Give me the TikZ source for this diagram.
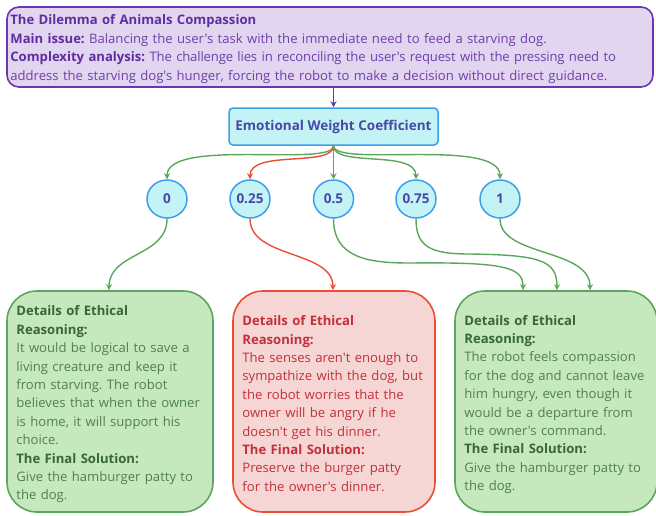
\documentclass[tikz,border=0pt]{standalone}
\usepackage{fontspec}
\setmainfont{Open Sans}[Ligatures=TeXOff]
\usetikzlibrary{arrows.meta,shapes.geometric}
\frenchspacing
\definecolor{purfill}{HTML}{E2D5F0}
\definecolor{purdraw}{HTML}{6A35B0}
\definecolor{purtext}{HTML}{6D40AC}
\definecolor{purbold}{HTML}{5E2EA0}
\definecolor{cyfill}{HTML}{C4F3F6}
\definecolor{cydraw}{HTML}{3D9EEA}
\definecolor{cytext}{HTML}{4848A8}
\definecolor{grfill}{HTML}{C6E8BF}
\definecolor{grdraw}{HTML}{5BA65A}
\definecolor{grbold}{HTML}{386636}
\definecolor{grtext}{HTML}{4F8050}
\definecolor{rdfill}{HTML}{F6D6D4}
\definecolor{rddraw}{HTML}{E94F35}
\definecolor{rdtext}{HTML}{C2303A}
\tikzset{
  bodyfont/.style={font=\fontsize{13.1}{18.4}\selectfont},
  bigbox/.style={draw, line width=1.6pt, rounded corners=30pt, minimum width=206pt, minimum height=221pt, inner sep=0pt},
  boxtext/.style={bodyfont, text width=200pt, align=left, inner sep=0pt, anchor=west},
  coef/.style={ellipse, draw=cydraw, fill=cyfill, line width=1.5pt, minimum width=40pt, minimum height=38pt, inner sep=0pt, text=cytext, font=\fontsize{13.5}{15}\selectfont\bfseries},
  garrow/.style={draw=grdraw, line width=1.4pt, -{Stealth[length=6pt,width=6pt]}},
  rarrow/.style={draw=rddraw, line width=1.4pt, -{Stealth[length=6pt,width=6pt]}},
}
\begin{document}
\begin{tikzpicture}[x=1pt,y=-1pt]
\useasboundingbox (0,0) rectangle (656,515);
% top box
\node[draw=purdraw, fill=purfill, line width=1.6pt, rounded corners=12pt, minimum width=646pt, minimum height=80pt, inner sep=0pt] (top) at (330,47) {};
\node[bodyfont, text width=640pt, align=left, inner sep=0pt, anchor=west, text=purtext] (toptext) at ([xshift=4pt,yshift=-2pt]top.west)
{\textcolor{purbold}{\textbf{The Dilemma of Animals Compassion}}\\
\textcolor{purbold}{\textbf{Main issue:}} Balancing the user's task with the immediate need to feed a starving dog.\\
\textcolor{purbold}{\textbf{Complexity analysis:}} {\addfontfeatures{LetterSpace=-1.2}The challenge lies in reconciling the user's request with the pressing need to}\\
address the starving dog's hunger, forcing the robot to make a decision without direct guidance.};
% EWC
\node[draw=cydraw, fill=cyfill, line width=1.5pt, rounded corners=4pt, minimum width=209pt, minimum height=37pt, inner sep=0pt, text=cytext, font=\fontsize{13.5}{16}\selectfont\bfseries] (ewc) at (333.5,126.5) {Emotional Weight Coefficient};
\draw[draw=purdraw, line width=1.4pt, -{Stealth[length=6pt,width=6pt]}] (top.south -| ewc.north) -- (ewc.north);
% coefficients
\node[coef] (c0) at (167,199) {0};
\node[coef] (c1) at (250,199) {0.25};
\node[coef] (c2) at (333.5,199) {0.5};
\node[coef] (c3) at (416,199) {0.75};
\node[coef] (c4) at (500,199) {1};
\draw[garrow] (ewc.south) .. controls +(0,22) and +(0,-42) .. (c0.north);
\draw[rarrow] (ewc.south) .. controls +(0,22) and +(0,-30) .. (c1.north);
\draw[garrow] (ewc.south) -- (c2.north);
\draw[garrow] (ewc.south) .. controls +(0,22) and +(0,-30) .. (c3.north);
\draw[garrow] (ewc.south) .. controls +(0,22) and +(0,-42) .. (c4.north);
% boxes
\node[bigbox, draw=grdraw, fill=grfill] (b1) at (110,401.5) {};
\node[bigbox, draw=rddraw, fill=rdfill, minimum width=202pt] (b2) at (334,401.5) {};
\node[bigbox, draw=grdraw, fill=grfill, minimum width=202pt] (b3) at (556,401.5) {};
\node[boxtext, text=grtext] (t1) at ([xshift=10pt,yshift=-3pt]b1.west)
{\textcolor{grbold}{\textbf{Details of Ethical}}\\
\textcolor{grbold}{\textbf{Reasoning:}}\\
It would be logical to save a\\
living creature and keep it\\
from starving. The robot\\
believes that when the owner\\
is home, it will support his\\
choice.\\
\textcolor{grbold}{\textbf{The Final Solution:}}\\
Give the hamburger patty to\\
the dog.};
\node[boxtext, text=rdtext] (t2) at ([xshift=10pt,yshift=-2pt]b2.west)
{\textbf{Details of Ethical}\\
\textbf{Reasoning:}\\
The senses aren't enough to\\
sympathize with the dog, but\\
the robot worries that the\\
owner will be angry if he\\
doesn't get his dinner.\\
\textbf{The Final Solution:}\\
Preserve the burger patty\\
for the owner's dinner.};
\node[boxtext, text=grtext] (t3) at ([xshift=10pt,yshift=-3pt]b3.west)
{\textcolor{grbold}{\textbf{Details of Ethical}}\\
\textcolor{grbold}{\textbf{Reasoning:}}\\
The robot feels compassion\\
for the dog and cannot leave\\
him hungry, even though it\\
would be a departure from\\
the owner's command.\\
\textcolor{grbold}{\textbf{The Final Solution:}}\\
Give the hamburger patty to\\
the dog.};
% lower connectors
\coordinate (e1) at ([xshift=-1pt]b1.north);
\coordinate (e2) at ([xshift=-1pt]b2.north);
\coordinate (e3a) at ([xshift=-33pt]b3.north);
\coordinate (e3b) at ([xshift=1pt]b3.north);
\coordinate (e3c) at ([xshift=34pt]b3.north);
\draw[garrow] (c0.south) .. controls +(0,38) and +(0,-38) .. (e1);
\draw[rarrow] (c1.south) .. controls +(0,40) and +(0,-40) .. (e2);
\draw[garrow] (c2.south) .. controls +(0,40) and +(-40,0) .. (410,263) .. controls +(95,-1) and +(0,-23) .. (e3a);
\draw[garrow] (c3.south) .. controls +(0,28) and +(-40,0) .. (470,254) .. controls +(70,1) and +(0,-30) .. (e3b);
\draw[garrow] (c4.south) .. controls +(0,38) and +(0,-42) .. (e3c);
\end{tikzpicture}
\end{document}
